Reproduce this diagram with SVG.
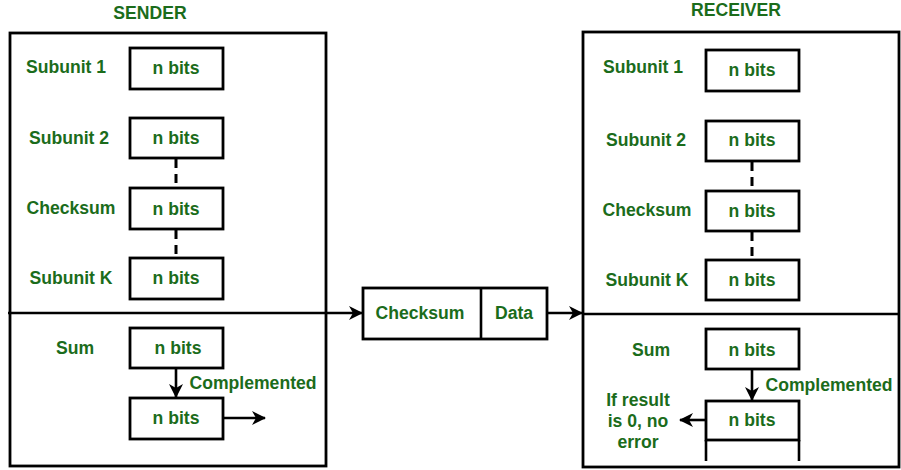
<svg xmlns="http://www.w3.org/2000/svg" width="901" height="470" viewBox="0 0 901 470">
<defs>
<style>
.t{font-family:"Liberation Sans",Arial,sans-serif;font-weight:bold;font-size:17.6px;fill:#1b6c1b;text-anchor:middle;dominant-baseline:central}
.b{fill:#fff;stroke:#000;stroke-width:2.8}
.l{stroke:#000;stroke-width:2.6;fill:none}
.d{stroke:#000;stroke-width:3;stroke-dasharray:9 6;fill:none}
</style>
<marker id="ah" viewBox="0 0 14 14" refX="13" refY="7" markerWidth="14" markerHeight="14" markerUnits="userSpaceOnUse" orient="auto">
<path d="M0,0 L14,7 L0,14 L4,7 Z" fill="#000"/>
</marker>
</defs>
<rect width="901" height="470" fill="#fff"/>
<g id="sender">
<text class="t" x="150" y="13">SENDER</text>
<rect class="b" x="10" y="33" width="316" height="433"/>
</g>
<g id="receiver">
<text class="t" x="736" y="10">RECEIVER</text>
<rect class="b" x="583" y="32" width="316" height="435"/>
</g>
<g id="s-sub1"><text class="t" x="66" y="67">Subunit 1</text><rect class="b" x="130" y="48" width="93" height="41"/><text class="t" x="176" y="68">n bits</text></g>
<g id="s-sub2"><text class="t" x="69" y="138">Subunit 2</text><rect class="b" x="130" y="118" width="93" height="40"/><text class="t" x="176" y="138">n bits</text></g>
<g id="s-chk"><text class="t" x="71" y="208">Checksum</text><rect class="b" x="130" y="188" width="93" height="41"/><text class="t" x="176" y="209">n bits</text></g>
<g id="s-subk"><text class="t" x="71" y="278">Subunit K</text><rect class="b" x="130" y="258" width="93" height="41"/><text class="t" x="176" y="278">n bits</text></g>
<g id="s-sum"><text class="t" x="75" y="348">Sum</text><rect class="b" x="130" y="328" width="93" height="40"/><text class="t" x="178" y="348">n bits</text></g>
<g id="s-comp"><rect class="b" x="130" y="398" width="93" height="41"/><text class="t" x="176" y="418">n bits</text><text class="t" x="253" y="383">Complemented</text></g>
<g id="packet">
<rect class="b" x="363" y="288" width="184" height="51"/>
<line class="l" x1="481" y1="288" x2="481" y2="339"/>
<text class="t" x="420" y="313">Checksum</text>
<text class="t" x="514" y="313">Data</text>
</g>
<g id="r-sub1"><text class="t" x="643" y="67">Subunit 1</text><rect class="b" x="706" y="50" width="93" height="41"/><text class="t" x="752" y="70">n bits</text></g>
<g id="r-sub2"><text class="t" x="646" y="140">Subunit 2</text><rect class="b" x="706" y="121" width="93" height="40"/><text class="t" x="752" y="140">n bits</text></g>
<g id="r-chk"><text class="t" x="647" y="210">Checksum</text><rect class="b" x="706" y="191" width="93" height="40"/><text class="t" x="752" y="211">n bits</text></g>
<g id="r-subk"><text class="t" x="647" y="280">Subunit K</text><rect class="b" x="706" y="260" width="93" height="40"/><text class="t" x="752" y="280">n bits</text></g>
<g id="r-sum"><text class="t" x="651" y="350">Sum</text><rect class="b" x="706" y="329" width="93" height="40"/><text class="t" x="752" y="350">n bits</text></g>
<g id="r-comp"><rect class="b" x="706" y="401" width="93" height="39"/><text class="t" x="752" y="420">n bits</text><text class="t" x="829" y="385">Complemented</text>
<line class="l" x1="706" y1="440" x2="706" y2="461"/><line class="l" x1="799" y1="440" x2="799" y2="461"/>
<text class="t" x="638" y="400">If result</text><text class="t" x="638" y="421">is 0, no</text><text class="t" x="638" y="442">error</text></g>
<g id="connectors">
<line class="d" x1="176" y1="159" x2="176" y2="188"/>
<line class="d" x1="176" y1="230" x2="176" y2="258"/>
<line class="d" x1="752" y1="162" x2="752" y2="191"/>
<line class="d" x1="752" y1="232" x2="752" y2="260"/>
<line class="l" x1="8" y1="313" x2="362" y2="313" marker-end="url(#ah)"/>
<line class="l" x1="547" y1="313" x2="582" y2="313" marker-end="url(#ah)"/>
<line class="l" x1="583" y1="314" x2="900" y2="314"/>
<line class="l" x1="176" y1="368" x2="176" y2="397" marker-end="url(#ah)"/>
<line class="l" x1="223" y1="418" x2="265" y2="418" marker-end="url(#ah)"/>
<line class="l" x1="752" y1="369" x2="752" y2="400" marker-end="url(#ah)"/>
<line class="l" x1="706" y1="420" x2="680" y2="420" marker-end="url(#ah)"/>
</g>
</svg>
